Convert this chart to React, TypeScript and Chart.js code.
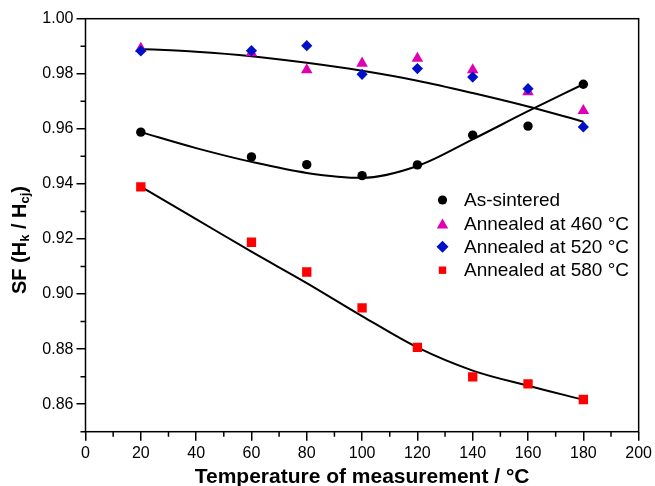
import React, { useEffect, useRef } from 'react';
import { Chart, registerables } from 'chart.js';

Chart.register(...registerables);

// Measured temperatures (°C)
const temps = [20, 60, 80, 100, 120, 140, 160, 180];
// Squareness factor values
const asSintered = [0.9588, 0.9498, 0.947, 0.943, 0.9469, 0.9577, 0.961, 0.9762];
const annealed460 = [0.9892, 0.9876, 0.9814, 0.9838, 0.9856, 0.9814, 0.9734, 0.9666];
const annealed520 = [0.9883, 0.9884, 0.9902, 0.9798, 0.9819, 0.9788, 0.9746, 0.9607];
const annealed580 = [0.9389, 0.9188, 0.908, 0.895, 0.8806, 0.8699, 0.8674, 0.8617];

// Fit curves
const fitTemps = [20, 40, 60, 80, 100, 120, 140, 160, 180];
const fitAnnealed = [0.989, 0.988, 0.9864, 0.984, 0.9811, 0.9775, 0.973, 0.9681, 0.9626];
const fitAsSintered = [0.9588, 0.953, 0.948, 0.944, 0.9422, 0.9465, 0.9562, 0.9664, 0.9762];
const fit580 = [0.939, 0.9272, 0.9154, 0.904, 0.892, 0.8806, 0.8722, 0.8667, 0.8616];

// Axis ticks
const xTicks = [0, 20, 40, 60, 80, 100, 120, 140, 160, 180, 200];
const xMinorTicks = [10, 30, 50, 70, 90, 110, 130, 150, 170, 190];
const yTicks = [0.86, 0.88, 0.9, 0.92, 0.94, 0.96, 0.98, 1.0];
const yMinorTicks = [0.85, 0.87, 0.89, 0.91, 0.93, 0.95, 0.97, 0.99];

const legendLabels = ['As-sintered', 'Annealed at 460 °C', 'Annealed at 520 °C', 'Annealed at 580 °C'];
const xTitle = 'Temperature of measurement / °C';

const FONT = "'Liberation Sans', Arial, sans-serif";
const BLACK = '#000000';
const MAGENTA = '#E000B4';
const BLUE = '#0010C8';
const RED = '#FF0000';

const pts = (xs: number[], ys: number[]) => xs.map((x, i) => ({ x, y: ys[i] }));

function drawMarker(ctx: CanvasRenderingContext2D, style: string, x: number, y: number, color: string) {
  ctx.fillStyle = color;
  ctx.beginPath();
  if (style === 'circle') {
    ctx.arc(x, y, 4.6, 0, Math.PI * 2);
  } else if (style === 'triangle') {
    const w = 11.5, h = 10;
    ctx.moveTo(x, y - h / 2);
    ctx.lineTo(x + w / 2, y + h / 2);
    ctx.lineTo(x - w / 2, y + h / 2);
    ctx.closePath();
  } else if (style === 'rectRot') {
    const r = 6;
    ctx.moveTo(x - r, y);
    ctx.lineTo(x, y - r);
    ctx.lineTo(x + r, y);
    ctx.lineTo(x, y + r);
    ctx.closePath();
  } else {
    const s = 7.4;
    ctx.rect(x - s / 2, y - s / 2, s, s);
  }
  ctx.fill();
}

const decorPlugin = {
  id: 'decor',
  afterDraw(chart: any) {
    const { ctx, chartArea: a, scales } = chart;
    ctx.save();
    // frame
    ctx.strokeStyle = BLACK;
    ctx.lineWidth = 1.5;
    ctx.strokeRect(a.left, a.top, a.right - a.left, a.bottom - a.top);
    // minor ticks
    ctx.beginPath();
    xMinorTicks.forEach((v) => {
      const px = scales.x.getPixelForValue(v);
      ctx.moveTo(px, a.bottom);
      ctx.lineTo(px, a.bottom + 5);
    });
    yMinorTicks.forEach((v) => {
      const py = scales.y.getPixelForValue(v);
      ctx.moveTo(a.left, py);
      ctx.lineTo(a.left - 5, py);
    });
    ctx.stroke();

    // y-axis title with subscripts
    const segs = [
      { t: 'SF (H', sub: false },
      { t: 'k', sub: true },
      { t: ' / H', sub: false },
      { t: 'cj', sub: true },
      { t: ')', sub: false },
    ];
    const mainFont = `bold 20px ${FONT}`;
    const subFont = `bold 13px ${FONT}`;
    let total = 0;
    const widths = segs.map((s) => {
      ctx.font = s.sub ? subFont : mainFont;
      const w = ctx.measureText(s.t).width;
      total += w;
      return w;
    });
    ctx.translate(20, 240);
    ctx.rotate(-Math.PI / 2);
    ctx.fillStyle = BLACK;
    ctx.textBaseline = 'middle';
    ctx.textAlign = 'left';
    let cx = -total / 2;
    segs.forEach((s, i) => {
      ctx.font = s.sub ? subFont : mainFont;
      ctx.fillText(s.t, cx, s.sub ? 5 : 0);
      cx += widths[i];
    });
    ctx.setTransform(1, 0, 0, 1, 0, 0);

    // legend
    const styles = ['circle', 'triangle', 'rectRot', 'rect'];
    const colors = [BLACK, MAGENTA, BLUE, RED];
    ctx.font = `19px ${FONT}`;
    ctx.textBaseline = 'middle';
    ctx.textAlign = 'left';
    legendLabels.forEach((lab, i) => {
      const y = 200 + i * 23.4;
      drawMarker(ctx, styles[i], 442.5, y, colors[i]);
      ctx.fillStyle = BLACK;
      ctx.fillText(lab, 464, y + 1);
    });
    ctx.restore();
  },
};

export default function App() {
  const ref = useRef<HTMLCanvasElement | null>(null);

  useEffect(() => {
    if (!ref.current) return;
    const fitStyle = {
      type: 'line' as const,
      borderColor: BLACK,
      borderWidth: 2,
      pointRadius: 0,
      showLine: true,
      fill: false,
      cubicInterpolationMode: 'monotone' as const,
      order: 10,
    };
    const chart = new Chart(ref.current, {
      type: 'scatter',
      data: {
        datasets: [
          { ...fitStyle, label: 'fit-annealed', data: pts(fitTemps, fitAnnealed) } as any,
          { ...fitStyle, label: 'fit-as-sintered', data: pts(fitTemps, fitAsSintered) } as any,
          { ...fitStyle, label: 'fit-580', data: pts(fitTemps, fit580) } as any,
          {
            label: legendLabels[0],
            data: pts(temps, asSintered),
            pointStyle: 'circle',
            pointRadius: 4.7,
            backgroundColor: BLACK,
            borderWidth: 0,
            order: 4,
          },
          {
            label: legendLabels[1],
            data: pts(temps, annealed460),
            pointStyle: 'triangle',
            pointRadius: 6.7,
            backgroundColor: MAGENTA,
            borderWidth: 0,
            order: 3,
          },
          {
            label: legendLabels[2],
            data: pts(temps, annealed520),
            pointStyle: 'rectRot',
            pointRadius: 5.6,
            backgroundColor: BLUE,
            borderWidth: 0,
            order: 2,
          },
          {
            label: legendLabels[3],
            data: pts(temps, annealed580),
            pointStyle: 'rect',
            pointRadius: 6.6,
            backgroundColor: RED,
            borderWidth: 0,
            order: 1,
          },
        ],
      },
      options: {
        animation: false,
        responsive: false,
        devicePixelRatio: 1,
        layout: { padding: { top: 18.7, right: 15, left: 0, bottom: 0 } },
        plugins: {
          legend: { display: false },
          tooltip: { enabled: false },
        },
        scales: {
          x: {
            type: 'linear',
            min: 0,
            max: 200,
            afterBuildTicks: (axis: any) => {
              axis.ticks = xTicks.map((v) => ({ value: v }));
            },
            afterFit: (axis: any) => {
              axis.height = 54.3;
            },
            border: { display: false },
            grid: {
              display: true,
              drawOnChartArea: false,
              drawTicks: true,
              tickLength: 9,
              color: BLACK,
              lineWidth: 1.5,
            },
            ticks: {
              color: BLACK,
              font: { family: FONT, size: 16 },
              padding: 3,
              maxRotation: 0,
              autoSkip: false,
              callback: (v: any) => String(v),
            },
            title: {
              display: true,
              text: xTitle,
              color: BLACK,
              font: { family: FONT, size: 21, weight: 'bold', lineHeight: 1 },
              padding: { top: 0, bottom: -2 },
            },
          },
          y: {
            type: 'linear',
            min: 0.85,
            max: 1.0,
            afterBuildTicks: (axis: any) => {
              axis.ticks = yTicks.map((v) => ({ value: v }));
            },
            afterFit: (axis: any) => {
              axis.width = 85.5;
            },
            border: { display: false },
            grid: {
              display: true,
              drawOnChartArea: false,
              drawTicks: true,
              tickLength: 9,
              color: BLACK,
              lineWidth: 1.5,
            },
            ticks: {
              color: BLACK,
              font: { family: FONT, size: 16 },
              padding: 3,
              autoSkip: false,
              callback: (v: any) => Number(v).toFixed(2),
            },
          },
        },
      },
      plugins: [decorPlugin],
    });
    return () => chart.destroy();
  }, []);

  return (
    <div style={{ position: 'absolute', left: 0, top: 0, width: 655, height: 486, background: '#fff' }}>
      <canvas ref={ref} width={655} height={486} style={{ display: 'block' }} />
    </div>
  );
}
